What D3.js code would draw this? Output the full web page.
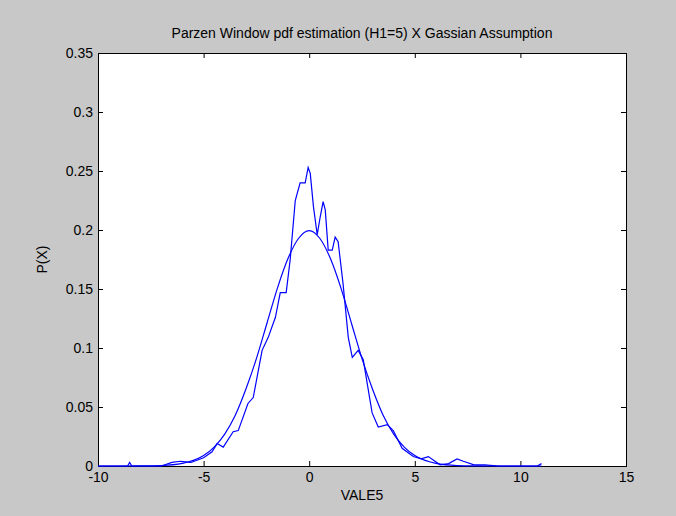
<!DOCTYPE html><html><head><script src="https://d3js.org/d3.v7.min.js"></script>
<style>body{margin:0;background:#c8c8c8}text{font-family:Arial,"Liberation Sans",sans-serif}</style></head><body><svg id="c" width="676" height="516"></svg><script>
const xTicks=[-10,-5,0,5,10,15];
const yTicks=[0,0.05,0.1,0.15,0.2,0.25,0.3,0.35];
const parzenX=[-10,-9,-8.6,-8.5,-8.4,-8,-7,-6.5,-6.1,-5.6,-5,-4.6,-4.36,-4.07,-3.6,-3.36,-2.9,-2.65,-2.23,-1.94,-1.6,-1.37,-1.09,-0.9,-0.66,-0.43,-0.19,-0.05,0.05,0.2,0.38,0.52,0.66,0.76,0.9,1.09,1.23,1.37,1.6,1.85,2.04,2.32,2.56,2.98,3.27,3.7,3.98,4.4,4.93,5.3,5.64,6.2,6.6,7.0,7.3,7.8,8.3,9,10,10.8,11];
const parzenY=[0,0,0,0.003,0,0,0,0.003,0.004,0.003,0.007,0.012,0.019,0.016,0.029,0.03,0.053,0.058,0.098,0.109,0.126,0.147,0.147,0.175,0.225,0.24,0.24,0.253,0.248,0.22,0.196,0.211,0.224,0.217,0.183,0.183,0.194,0.19,0.155,0.109,0.092,0.098,0.09,0.045,0.033,0.035,0.03,0.015,0.008,0.006,0.008,0.001,0.002,0.006,0.004,0.001,0.001,0,0,0,0.002];
const gaussX=[-10,-9,-8,-7,-6,-5,-4.5,-4,-3.5,-3,-2.5,-2,-1.5,-1,-0.5,0,0.5,1,1.5,2,2.5,3,3.5,4,4.5,5,6,7,8,9,10,11];
const gaussY=[0,0,0.0001,0.0004,0.0022,0.0088,0.016,0.027,0.043,0.065,0.091,0.121,0.151,0.176,0.193,0.1995,0.193,0.176,0.151,0.121,0.091,0.065,0.043,0.027,0.016,0.0088,0.0022,0.0004,0.0001,0,0,0];
const svg=d3.select("#c");
const L=98,R=626,T=53,B=466;
svg.append("rect").attr("x",L).attr("y",T).attr("width",R-L).attr("height",B-T).attr("fill","#fff");
const x=d3.scaleLinear().domain([-10,15]).range([L,R]);
const y=d3.scaleLinear().domain([0,0.35]).range([B,T]);
const fmt=d=>d===0?"0":String(d);
const gx=svg.append("g").attr("transform",`translate(0,${B})`).call(d3.axisBottom(x).tickValues(xTicks).tickSize(-5).tickFormat(fmt));
const gx2=svg.append("g").attr("transform",`translate(0,${T})`).call(d3.axisTop(x).tickValues(xTicks).tickSize(-5).tickFormat(""));
const gy=svg.append("g").attr("transform",`translate(${L},0)`).call(d3.axisLeft(y).tickValues(yTicks).tickSize(-5).tickFormat(fmt));
const gy2=svg.append("g").attr("transform",`translate(${R},0)`).call(d3.axisRight(y).tickValues(yTicks).tickSize(-5).tickFormat(""));
[gx,gx2,gy,gy2].forEach(g=>{g.select(".domain").attr("stroke","#000");g.selectAll("text").attr("font-size",14).attr("fill","#000").style("font-family","Arial,'Liberation Sans',sans-serif");});
gx.selectAll("text").attr("dy","0.9em");gy.selectAll("text").attr("dx","-2");
const line=d3.line().x(d=>x(d[0])).y(d=>y(d[1]));
svg.append("path").attr("d",line.curve(d3.curveMonotoneX)(d3.zip(gaussX,gaussY))).attr("fill","none").attr("stroke","#0000ff").attr("stroke-width",1.2);
svg.append("path").attr("d",line.curve(d3.curveLinear)(d3.zip(parzenX,parzenY))).attr("fill","none").attr("stroke","#0000ff").attr("stroke-width",1.2);
svg.append("text").attr("x",(L+R)/2).attr("y",38).attr("text-anchor","middle").attr("font-size",14).text("Parzen Window pdf estimation (H1=5) X Gassian Assumption");
svg.append("text").attr("x",(L+R)/2).attr("y",500).attr("text-anchor","middle").attr("font-size",14).text("VALE5");
svg.append("text").attr("transform",`translate(47,${(T+B)/2}) rotate(-90)`).attr("text-anchor","middle").attr("font-size",14).text("P(X)");
</script></body></html>
